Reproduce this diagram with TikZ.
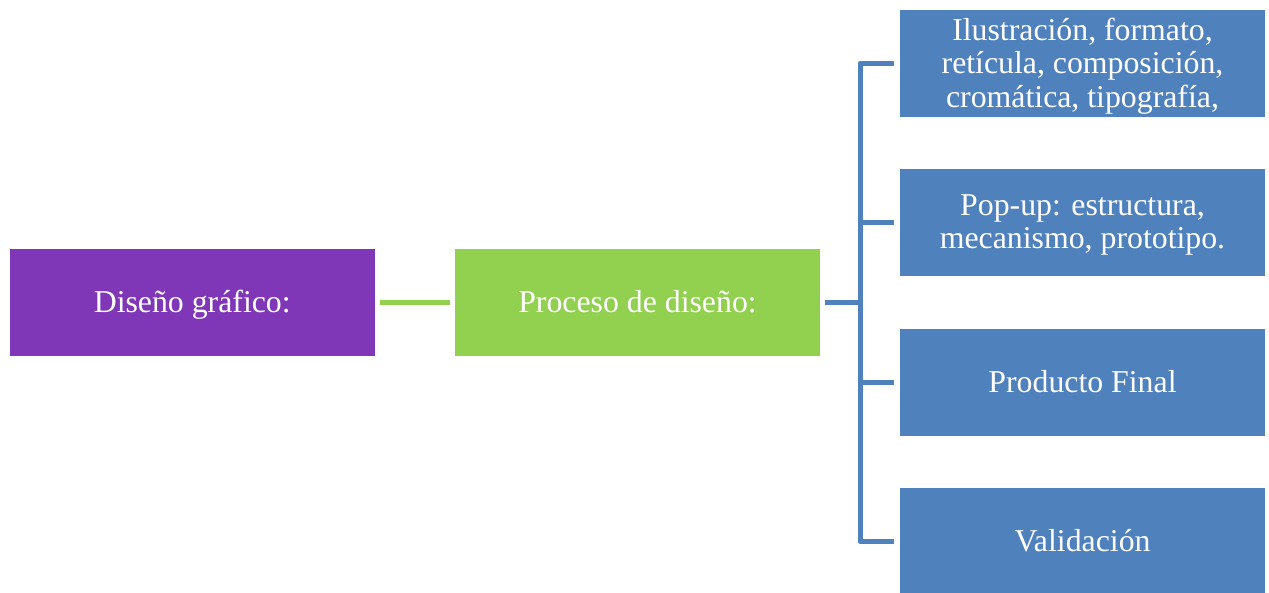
\documentclass[tikz,border=0pt]{standalone}
\usepackage{fontspec}
\setmainfont{Liberation Serif}
\definecolor{dgpurple}{HTML}{7F37B8}
\definecolor{dggreen}{HTML}{92D050}
\definecolor{dgblue}{HTML}{4F81BD}
\tikzset{
  boxbase/.style={rectangle, minimum width=365pt, minimum height=107pt, inner sep=0pt,
    text=white, align=center, font=\fontsize{31.8}{33.3}\selectfont,
    text height=22pt, text depth=2pt},
  purplebox/.style={boxbase, fill=dgpurple},
  greenbox/.style={boxbase, fill=dggreen},
  bluebox/.style={boxbase, fill=dgblue},
  greenline/.style={draw=dggreen, line width=5pt},
  blueline/.style={draw=dgblue, line width=5pt, line join=round}
}
\begin{document}
\begin{tikzpicture}[x=1pt, y=-1pt]
\useasboundingbox (0,0) rectangle (1269,592);
\clip (0,0) rectangle (1269,592);
\node[purplebox] (p) at (192.25,302) {Diseño gráfico:};
\node[greenbox] (g) at (637.5,302) {Proceso de diseño:};
\node[bluebox, text height=90pt] (b1) at (1082.5,63) {Ilustración, formato,\\retícula, composición,\\cromática, tipografía,};
\node[bluebox, text height=54pt] (b2) at (1082.5,222.5) {Pop-up: estructura,\\mecanismo, prototipo.};
\node[bluebox] (b3) at (1082.5,382) {Producto Final};
\node[bluebox] (b4) at (1082.5,541.5) {Validación};
\coordinate (spine) at (860,302);
\draw[greenline] ([xshift=5pt]p.east) -- ([xshift=-5pt]g.west);
\draw[blueline] ([xshift=-6pt]b1.west) -- (b1.west -| spine) -- (b4.west -| spine) -- ([xshift=-6pt]b4.west);
\draw[blueline] ([xshift=-6pt]b2.west) -- (b2.west -| spine);
\draw[blueline] ([xshift=-6pt]b3.west) -- (b3.west -| spine);
\draw[blueline] ([xshift=5pt]g.east) -- (g.east -| spine);
\end{tikzpicture}
\end{document}
